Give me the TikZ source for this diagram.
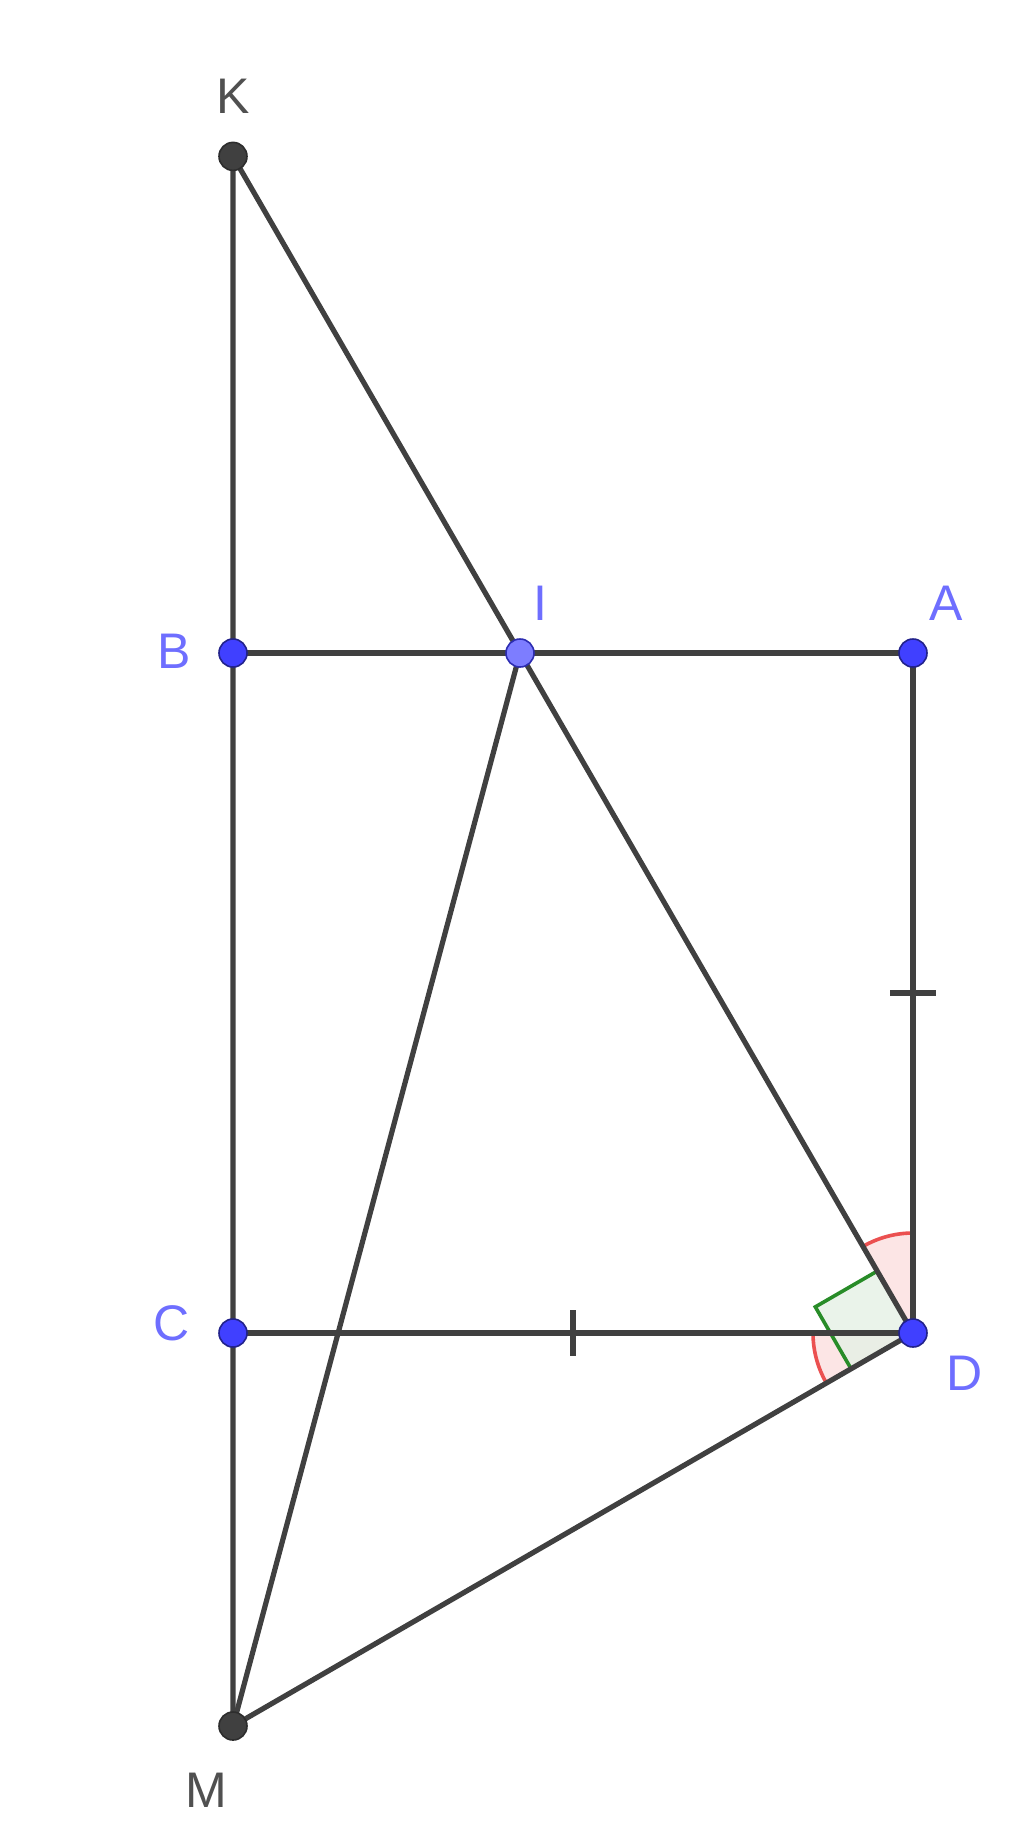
\documentclass[tikz,border=0pt]{standalone}
\usepackage{fontspec}
\setmainfont{Liberation Sans}
\usetikzlibrary{calc, positioning, angles}
\definecolor{segc}{RGB}{64,64,64}
\definecolor{ptblue}{RGB}{64,64,255}
\definecolor{ptlight}{RGB}{125,125,255}
\definecolor{lblblue}{RGB}{110,110,255}
\definecolor{lblgray}{RGB}{80,80,80}
\definecolor{mkred}{RGB}{235,80,80}
\definecolor{mkgreen}{RGB}{40,140,40}
\tikzset{
    seg/.style={draw=segc, line width=2.6pt},
    tick/.style={draw=segc, line width=2.6pt},
    ptdot/.style={circle, fill=ptblue, draw=ptblue!55!black, line width=0.8pt, inner sep=0pt, minimum size=14pt},
    auxdot/.style={ptdot, fill=segc, draw=segc!70!black},
    lbl/.style={inner sep=0pt, text=lblblue, font=\fontsize{25}{30}\selectfont},
    lblaux/.style={lbl, text=lblgray},
    eqangle/.style={draw=mkred, fill=mkred!15, line width=1.8pt, angle radius=50pt},
}
\begin{document}
\begin{tikzpicture}[x=0.5pt,y=-0.5pt]
\useasboundingbox[fill=white] (0,0) rectangle (1024,1848);
% square ABCD
\coordinate (D) at (913,1333);
\coordinate (A) at (913,653);
\coordinate (B) at (233,653);
\coordinate (C) at (233,1333);
\coordinate (I) at (520,653);
\coordinate (K) at (intersection of D--I and B--C);
\coordinate (M) at ($(C)+(0,393)$);
% angle marks at D
\pic[eqangle] {angle=A--D--I};
\pic[eqangle] {angle=C--D--M};
\coordinate (ri) at ($(D)!35.75pt!(I)$);
\coordinate (rm) at ($(D)!35.75pt!(M)$);
\coordinate (rc) at ($(ri)+(rm)-(D)$);
\fill[mkgreen!12, opacity=0.8] (D) -- (ri) -- (rc) -- (rm) -- cycle;
\draw[mkgreen, line width=1.8pt] (ri) -- (rc) -- (rm);
% segments
\draw[seg] (K) -- (M);
\draw[seg] (B) -- (A) -- (D) -- (C);
\draw[seg] (K) -- (D) -- (M) -- (I);
% equal marks
\coordinate (mAD) at ($(A)!0.5!(D)$);
\coordinate (mCD) at ($(C)!0.5!(D)$);
\draw[tick] ($(mAD)+(-23,0)$) -- ($(mAD)+(23,0)$);
\draw[tick] ($(mCD)+(0,-23)$) -- ($(mCD)+(0,23)$);
% points
\node[auxdot] (dotK) at (K) {};
\node[auxdot] (dotM) at (M) {};
\node[ptdot] (dotA) at (A) {};
\node[ptdot] (dotB) at (B) {};
\node[ptdot] (dotC) at (C) {};
\node[ptdot] (dotD) at (D) {};
\node[ptdot, fill=ptlight, draw=ptblue!70!black] (dotI) at (I) {};
% labels
\node[lblaux] (lK) at ($(K)+(0,-60)$) {K};
\node[lblaux] (lM) at ($(M)+(-27,64)$) {M};
\node[lbl] (lA) at ($(A)+(33,-50)$) {A};
\node[lbl] (lB) at ($(B)+(-59,-2)$) {B};
\node[lbl] (lC) at ($(C)+(-61,-10)$) {C};
\node[lbl] (lD) at ($(D)+(52,40)$) {D};
\node[lbl] (lI) at ($(I)+(20,-50)$) {I};
\end{tikzpicture}
\end{document}
